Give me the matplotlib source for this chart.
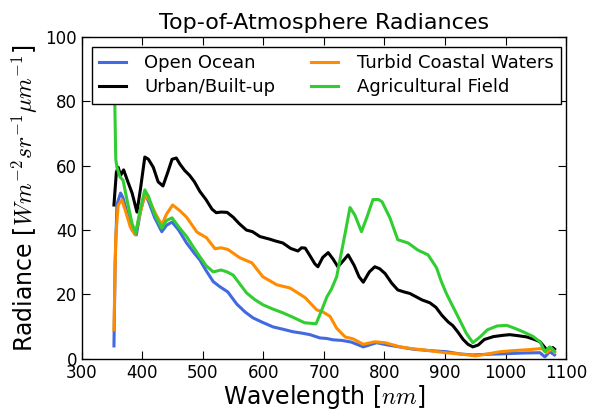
import numpy as np
import matplotlib
matplotlib.use('Agg')
import matplotlib.pyplot as plt

plt.rcParams['mathtext.fontset'] = 'cm'
plt.rcParams['font.family'] = 'DejaVu Sans'

# values (wavelength nm, radiance)
ocean_wl = [353, 355, 358, 364, 368, 375, 383, 390, 397, 404, 410, 420, 432, 440, 449, 460,
            473, 485, 495, 505, 517, 528, 541, 556, 570, 583, 600, 616, 632, 649, 663, 677,
            693, 705, 715, 730, 745, 765, 787, 805, 825, 847, 870, 903, 925, 946, 970, 1002,
            1030, 1057, 1065, 1073, 1081]
ocean = [4, 30, 48, 51.5, 50, 45, 40, 38.5, 46, 51, 49, 44, 39.5, 41.5, 42.5, 40,
         36, 33, 30.7, 27.5, 24, 22.4, 20.8, 17, 14.5, 12.7, 11.2, 9.9, 9.2, 8.4, 8, 7.5,
         6.5, 6.3, 5.9, 5.7, 5.2, 3.7, 5, 4.3, 3.7, 3, 2.6, 2.2, 1.5, 1.2, 1.4, 1.6,
         1.8, 1.9, 0.6, 2.2, 1.2]

urban_wl = [353, 357, 360, 364, 369, 376, 383, 391, 397, 404, 410, 418, 426, 434, 442, 449,
            456, 462, 470, 478, 486, 495, 505, 515, 522, 530, 540, 550, 560, 572, 582, 594,
            610, 620, 632, 645, 657, 663, 669, 677, 685, 690, 698, 707, 715, 723, 732, 740,
            750, 758, 765, 775, 784, 792, 801, 812, 822, 832, 842, 852, 862, 875, 885, 895,
            905, 913, 921, 930, 938, 946, 955, 965, 980, 996, 1007, 1020, 1035, 1048, 1057,
            1065, 1070, 1078, 1081]
urban = [47.8, 58, 59.5, 57, 58.7, 55, 51.5, 45.6, 53, 62.7, 62, 59.5, 55, 53.7, 58, 62,
         62.4, 60.5, 58.5, 57, 55, 52, 49.5, 46.5, 45.4, 45.6, 45.5, 44, 42, 40, 39.5, 38,
         37.2, 36.6, 36, 34.3, 33.5, 34.5, 34.4, 32, 29.5, 28.6, 31.5, 33, 31, 28.6, 30.5, 32.3,
         29, 25.5, 23.8, 27, 28.6, 28, 26.5, 23.5, 21.4, 20.8, 20.3, 19.3, 18.3, 17.4, 16, 13.5,
         11.5, 10.3, 8.4, 6, 4.5, 3.7, 4.3, 6, 6.9, 7.3, 7.5, 7.2, 6.8, 6, 5.3,
         3.5, 2.2, 3.5, 3]

turbid_wl = [353, 356, 360, 366, 372, 380, 388, 396, 404, 412, 422, 432, 440, 450, 462, 473,
             490, 506, 520, 530, 541, 561, 581, 599, 622, 644, 669, 688, 698, 710, 721, 735,
             748, 765, 784, 801, 826, 847, 864, 900, 930, 950, 970, 991, 1010, 1035, 1060,
             1068, 1077, 1081]
turbid = [9, 38, 47.8, 49.4, 46, 41, 38.5, 45, 51, 49, 45, 41.6, 45, 47.8, 46, 44,
          39.4, 37.6, 34.2, 34.5, 34, 31.4, 29.8, 25.5, 23, 22, 19, 15.2, 14.6, 13.2, 9.5, 6.8,
          6.2, 4.5, 5.3, 5, 3.7, 3.1, 2.8, 1.9, 1.4, 0.9, 1.5, 2.2, 2.5, 2.8, 3.2,
          1.9, 3.1, 2]

agri_wl = [353, 356, 358, 363, 368, 375, 383, 389, 396, 404, 410, 420, 432, 440, 449, 460,
           473, 485, 495, 505, 517, 530, 540, 550, 560, 572, 585, 599, 615, 632, 650, 668,
           680, 687, 695, 705, 712, 721, 735, 743, 751, 762, 771, 781, 790, 796, 809, 822,
           839, 855, 872, 886, 894, 903, 915, 925, 935, 946, 958, 970, 986, 1002, 1015, 1029,
           1045, 1057, 1065, 1073, 1081]
agri = [95, 62, 59.5, 56.5, 55.5, 49, 42, 39, 46, 52.5, 50.5, 45, 40.6, 43, 43.8, 41,
        38, 34.5, 31.7, 29, 27, 27.6, 27, 26, 23.5, 20.5, 18.5, 16.8, 15.5, 14.3, 12.8, 11.2,
        11, 10.9, 14.5, 19.3, 21.5, 25.5, 39, 47, 44.7, 39.5, 44, 49.5, 49.5, 48.8, 43.8, 37,
        36, 33.8, 32.3, 28.3, 24, 20, 15.5, 11.8, 8, 5, 6.8, 9, 10.2, 10.4, 9.5, 8.4,
        7, 5.3, 2.2, 3.7, 2.3]

fig = plt.figure(figsize=(5.89, 4.11), dpi=100)
ax = fig.add_axes([0.139, 0.127, 0.822, 0.783])

ax.plot(ocean_wl, ocean, color='#4169e1', lw=2.2, label='Open Ocean')
ax.plot(urban_wl, urban, color='black', lw=2.2, label='Urban/Built-up')
ax.plot(turbid_wl, turbid, color='#ff8c00', lw=2.2, label='Turbid Coastal Waters')
ax.plot(agri_wl, agri, color='#32cd32', lw=2.2, label='Agricultural Field')

ax.set_xlim(300, 1100)
ax.set_ylim(0, 100)
ax.set_xticks(np.arange(300, 1101, 100))
ax.set_yticks(np.arange(0, 101, 20))
ax.tick_params(direction='in', top=True, right=True, length=6, labelsize=12)
for s in ax.spines.values():
    s.set_linewidth(1.0)

ax.set_title('Top-of-Atmosphere Radiances', fontsize=16)
ax.set_xlabel('Wavelength [$nm$]', fontsize=17, labelpad=1)
ax.set_ylabel('Radiance [$Wm^{-2}sr^{-1}\\mu m^{-1}$]', fontsize=17)

leg = ax.legend(loc='upper left', ncol=2, fontsize=13, fancybox=False,
                framealpha=1, edgecolor='black', handlelength=1.5,
                handletextpad=1.0, borderaxespad=0.55, columnspacing=2.0,
                labelspacing=0.35)
leg.get_frame().set_linewidth(1.0)

fig.savefig('out.png', dpi=100)
